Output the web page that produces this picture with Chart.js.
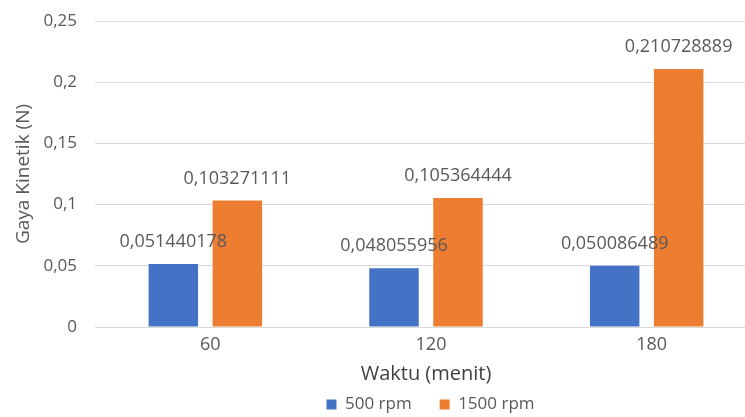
<!DOCTYPE html>
<html>
<head>
<meta charset="utf-8">
<script src="https://cdn.jsdelivr.net/npm/chart.js@4/dist/chart.umd.min.js"></script>
<style>
html,body{margin:0;padding:0;background:#fff;overflow:hidden;}
#wrap{width:745px;height:417px;overflow:hidden;position:relative;}
#c{display:block;}
</style>
</head>
<body>
<div id="wrap"><canvas id="c" width="757" height="417"></canvas></div>
<script>
const categories = ["60", "120", "180"];
const rpm500 = [0.051440178, 0.048055956, 0.050086489];
const rpm1500 = [0.103271111, 0.105364444, 0.210728889];
const seriesNames = ["500 rpm", "1500 rpm"];
const yTicks = [0, 0.05, 0.1, 0.15, 0.2, 0.25];

const FONT = "'Open Sans', 'Noto Sans', sans-serif";
const TXT = "#595959";

function fmt(v) { return String(v).replace('.', ','); }

const labelPlugin = {
  id: 'barLabels',
  afterDatasetsDraw(chart) {
    const ctx = chart.ctx;
    ctx.save();
    ctx.font = "18px " + FONT;
    ctx.fillStyle = TXT;
    ctx.textAlign = 'center';
    ctx.textBaseline = 'middle';
    chart.data.datasets.forEach((ds, i) => {
      const meta = chart.getDatasetMeta(i);
      meta.data.forEach((bar, j) => {
        ctx.fillText(fmt(ds.data[j]), bar.x, bar.y - 22);
      });
    });
    ctx.restore();
  }
};

const legendShift = {
  id: 'legendShift',
  afterLayout(chart) {
    const lg = chart.legend;
    if (!lg) return;
    lg.left += 46; lg.right += 46;
    lg.top = lg.bottom - 49;
  }
};

new Chart(document.getElementById('c'), {
  type: 'bar',
  data: {
    labels: categories,
    datasets: [
      { label: seriesNames[0], data: rpm500, backgroundColor: '#4472C4', categoryPercentage: 0.58, barPercentage: 0.773 },
      { label: seriesNames[1], data: rpm1500, backgroundColor: '#ED7D31', categoryPercentage: 0.58, barPercentage: 0.773 }
    ]
  },
  options: {
    responsive: false,
    animation: false,
    devicePixelRatio: 1,
    layout: { padding: { left: 12, right: 0, top: 21, bottom: 0 } },
    plugins: {
      legend: {
        position: 'bottom',
        maxHeight: 28,
        labels: { font: { family: FONT, size: 17 }, color: TXT, boxWidth: 10, boxHeight: 10, padding: 28 }
      },
      tooltip: { enabled: false }
    },
    scales: {
      x: {
        afterFit(axis) { axis.height = 62; axis.paddingLeft = 0; axis.paddingRight = 0; },
        grid: { display: false, drawTicks: false },
        border: { color: '#d9d9d9' },
        ticks: { font: { family: FONT, size: 18 }, color: TXT, padding: 7, labelOffset: 5 },
        title: { display: true, text: 'Waktu (menit)', font: { family: FONT, size: 20 }, color: '#404040', padding: { top: 0, bottom: 3 } }
      },
      y: {
        min: 0, max: 0.25,
        afterFit(axis) { axis.width = 83; axis.paddingTop = 0; axis.paddingBottom = 0; },
        afterBuildTicks(axis) { axis.ticks = yTicks.map(v => ({ value: v })); },
        grid: { color: '#d9d9d9', drawTicks: false },
        border: { display: false },
        ticks: { font: { family: FONT, size: 17 }, color: TXT, padding: 18, callback: v => fmt(v) },
        title: { display: true, text: 'Gaya Kinetik (N)', font: { family: FONT, size: 19 }, color: TXT, padding: { top: 0, bottom: 6 } }
      }
    }
  },
  plugins: [labelPlugin, legendShift]
});
</script>
</body>
</html>
